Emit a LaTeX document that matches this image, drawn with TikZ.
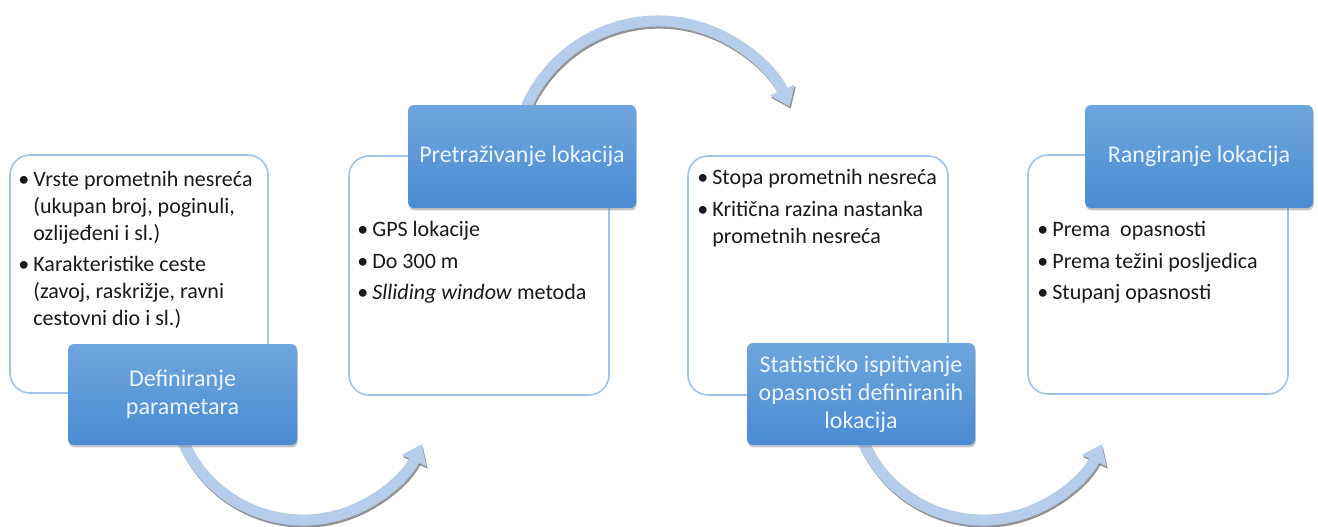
\documentclass[tikz,border=0pt]{standalone}
\usepackage{fontspec}
\setmainfont{Carlito}
\usetikzlibrary{arrows.meta,shadows,calc}
\definecolor{boxline}{HTML}{A3C2E8}
\definecolor{bluetop}{HTML}{6FA5DE}
\definecolor{bluebot}{HTML}{4A8BD3}
\definecolor{arrowfill}{HTML}{B5CCEB}
\definecolor{txt}{HTML}{1A1A1A}
\definecolor{hdtxt}{HTML}{EEF4FB}
\begin{document}
\begin{tikzpicture}[x=0.5pt,y=-0.5pt,
 panel/.style={draw=boxline, line width=0.8pt, rounded corners=10pt, fill=white, inner sep=0pt},
 head/.style={rounded corners=3pt, top color=bluetop, bottom color=bluebot,
   drop shadow={shadow xshift=0.4pt, shadow yshift=-1.2pt, opacity=0.45},
   text=hdtxt, font=\fontsize{12}{14}\selectfont, align=center, inner sep=0pt},
 item/.style={anchor=base west, inner sep=0pt, align=left, text=txt, font=\fontsize{11}{13.5}\selectfont},
 flow/.style={line width=5.5pt, draw=arrowfill, -{Triangle[width=13pt,length=9pt]}},
 flowshadow/.style={line width=5.5pt, draw=black!70, opacity=0.6, -{Triangle[width=13pt,length=9pt]}}
]
\useasboundingbox (0,0) rectangle (1318,526);
\newcommand{\bul}{\makebox[7.5pt][l]{\textbullet}}
\newcommand{\ind}{\hspace*{7.5pt}}

% arrows
\coordinate (c1) at (303,389);
\coordinate (c2) at (658,165);
\coordinate (c3) at (983,389);
\coordinate (a1) at ($(c1)+(160:131)$);
\coordinate (a2) at ($(c2)+(200:144)$);
\coordinate (a3) at ($(c3)+(160:131)$);
\begin{scope}[transform canvas={shift={(0.6pt,-1.1pt)}}]
\draw[flowshadow] (a1) arc[start angle=160, end angle=25, radius=131];
\draw[flowshadow] (a2) arc[start angle=200, end angle=336, radius=144];
\draw[flowshadow] (a3) arc[start angle=160, end angle=25, radius=131];
\end{scope}
\draw[flow] (a1) arc[start angle=160, end angle=25, radius=131];
\draw[flow] (a2) arc[start angle=200, end angle=336, radius=144];
\draw[flow] (a3) arc[start angle=160, end angle=25, radius=131];

% panels
\node[panel, minimum width=129pt, minimum height=119pt] (p1) at (139,274) {};
\node[panel, minimum width=130pt, minimum height=119.5pt] (p2) at (479,275.5) {};
\node[panel, minimum width=130pt, minimum height=119.5pt] (p3) at (818,275.5) {};
\node[panel, minimum width=130pt, minimum height=119.5pt] (p4) at (1158,274.5) {};

% headers
\node[head, minimum width=114.5pt, minimum height=50.5pt] (h1) at (182.5,394.5) {Definiranje\\parametara};
\node[head, minimum width=114pt, minimum height=51.5pt] (h2) at (522,156.5) {Pretraživanje lokacija};
\node[head, minimum width=114pt, minimum height=51pt] (h3) at (861,394) {Statističko ispitivanje\\opasnosti definiranih\\lokacija};
\node[head, minimum width=114pt, minimum height=51.5pt] (h4) at (1199,156.5) {Rangiranje lokacija};

% items (base = baseline of last line)
\node[item] (i11) at (18,240) {\bul Vrste prometnih nesreća\\\ind(ukupan broj, poginuli,\\\ind ozlijeđeni i sl.)};
\node[item] (i12) at (18,325) {\bul Karakteristike ceste\\\ind(zavoj, raskrižje, ravni\\\ind cestovni dio i sl.)};
\node[item] (i21) at (357,236) {\bul GPS lokacije};
\node[item] (i22) at (357,268) {\bul Do 300 m};
\node[item] (i23) at (357,299) {\bul\textit{Slliding window} metoda};
\node[item] (i31) at (697,184) {\bul Stopa prometnih nesreća};
\node[item] (i32) at (697,243) {\bul Kritična razina nastanka\\\ind prometnih nesreća};
\node[item] (i41) at (1037,236) {\bul Prema\ \ opasnosti};
\node[item] (i42) at (1037,268) {\bul Prema težini posljedica};
\node[item] (i43) at (1037,299) {\bul Stupanj opasnosti};
\end{tikzpicture}
\end{document}
